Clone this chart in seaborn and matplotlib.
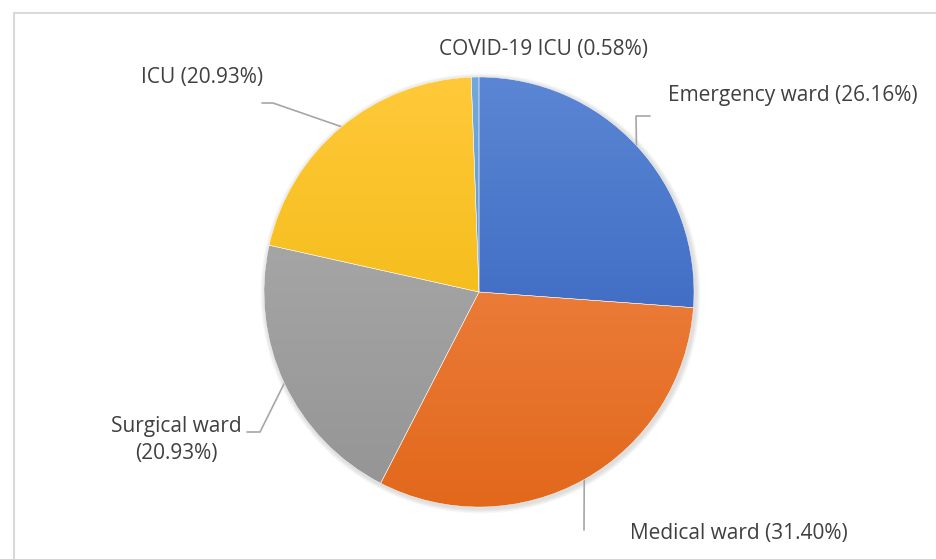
import matplotlib.pyplot as plt
import numpy as np
import seaborn as sns
from matplotlib.colors import LinearSegmentedColormap
from matplotlib.patches import Circle

# 数据
categories = ['Emergency ward', 'Medical ward', 'Surgical ward', 'ICU', 'COVID-19 ICU']
shares = [26.16, 31.40, 20.93, 20.93, 0.58]
label_texts = ['Emergency ward (26.16%)', 'Medical ward (31.40%)', 'Surgical ward\n(20.93%)',
               'ICU (20.93%)', 'COVID-19 ICU (0.58%)']
top_colors = ['#5B86D4', '#F38E55', '#B0B0B0', '#FFC93A', '#72A9DC']
bottom_colors = ['#2C5BB8', '#E2681B', '#949494', '#ECB300', '#4D8BC8']

W, H = 937, 559
CX, CY, R = 479, H - 292, 215


def py(y):
    # 图片像素坐标(从上往下) -> 数据坐标
    return H - y


sns.set_theme(style='white')
plt.rcParams['font.family'] = ['Open Sans', 'DejaVu Sans']

fig = plt.figure(figsize=(W / 100, H / 100), dpi=100)
ax = fig.add_axes([0, 0, 1, 1])

# 阴影
for k in range(6):
    ax.add_patch(Circle((CX + 1.5, CY - 1.5), R + 1 + k * 0.8, color='k', alpha=0.025, lw=0, zorder=0))

wedges, _ = ax.pie(shares, center=(CX, CY), radius=R, startangle=90, counterclock=False,
                   colors=top_colors, frame=True,
                   wedgeprops=dict(linewidth=0.3, edgecolor='white'))

# 渐变填充
grad = np.linspace(0, 1, 256).reshape(-1, 1)
for w, c0, c1 in zip(wedges, top_colors, bottom_colors):
    cmap = LinearSegmentedColormap.from_list('g', [c1, c0])
    im = ax.imshow(grad, cmap=cmap, extent=(CX - R, CX + R, CY - R, CY + R), origin='lower',
                   aspect='auto', zorder=w.get_zorder() + 0.1)
    im.set_clip_path(w)
    w.set_zorder(w.get_zorder() + 0.2)
    w.set_facecolor('none')

# 标签和引导线 (像素位置)
label_pos = [(668, 96, 'left'), (630, 533, 'left'), (176, 440, 'center'), (202, 78, 'center'), (544, 50, 'center')]
elbows = [[(636, 116), (650, 116)], [(584, 530)], [(260, 432), (247, 432)], [(273, 103), (262, 103)], None]

for w, txt, (lx, ly, ha), elbow in zip(wedges, label_texts, label_pos, elbows):
    mid = np.deg2rad((w.theta1 + w.theta2) / 2)
    ax0, ay0 = CX + R * np.cos(mid), CY + R * np.sin(mid)
    if elbow is not None:
        xs = [ax0] + [p[0] for p in elbow]
        ys = [ay0] + [py(p[1]) for p in elbow]
        ax.plot(xs, ys, color='#A6A6A6', lw=1.2, zorder=1)
    ax.text(lx, py(ly), txt, ha=ha, va='center', fontsize=15, color='#404040', linespacing=1.4,
            multialignment='center')

ax.set_xlim(0, W)
ax.set_ylim(0, H)
ax.set_aspect('equal')
ax.axis('off')

# 外框
fig.add_artist(plt.Line2D([14 / W, 1], [1 - 13 / H, 1 - 13 / H], color='#D9D9D9', lw=1.5))
fig.add_artist(plt.Line2D([14 / W, 14 / W], [0, 1 - 13 / H], color='#D9D9D9', lw=1.5))

fig.savefig('out.png', dpi=100, facecolor='white')
